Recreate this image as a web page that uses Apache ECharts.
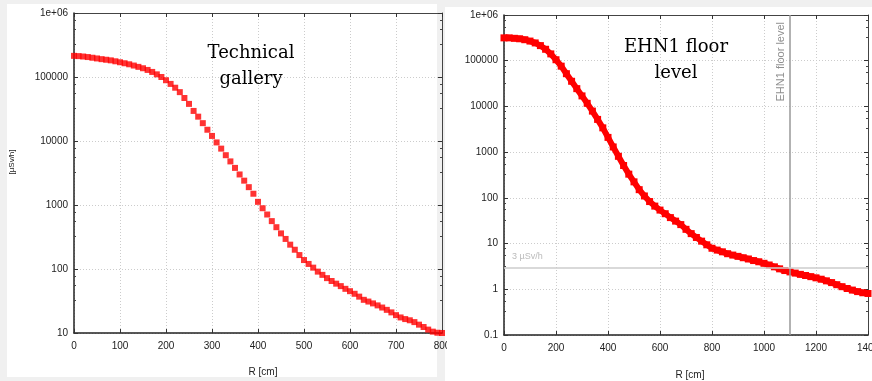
<!DOCTYPE html>
<html>
<head>
<meta charset="utf-8">
<style>
  html, body { margin: 0; padding: 0; background: #f0f0f0; }
  #chart { width: 872px; height: 381px; }
</style>
<script src="https://cdn.jsdelivr.net/npm/echarts@6/dist/echarts.min.js"></script>
</head>
<body>
<div id="chart"></div>
<script>
// Dose rate profile in the technical gallery (R in cm, dose in µSv/h)
const galleryR = [0,10,20,30,40,50,60,70,80,90,100,110,120,130,140,150,160,170,180,190,
  200,210,220,230,240,250,260,270,280,290,300,310,320,330,340,350,360,370,380,390,
  400,410,420,430,440,450,460,470,480,490,500,510,520,530,540,550,560,570,580,590,
  600,610,620,630,640,650,660,670,680,690,700,710,720,730,740,750,760,770,780,790,800];
const galleryDose = [214000,212000,209000,205000,200000,195000,190000,186000,182000,176000,
  170000,164000,158000,151000,144000,137000,129000,120000,110000,100000,
  89000,78000,68000,58000,47000,38000,29500,24000,19000,15000,
  12000,9500,7600,6000,4800,3800,3000,2400,1900,1500,
  1120,890,710,560,450,360,295,240,200,165,
  138,120,105,91,81,72,65,59,54,49,
  45,41,37,33,31,29,27,25,23,21,
  19,17.5,16.5,15.8,14.8,13.5,12.4,11.3,10.5,10.1,10.0];

// Dose rate profile at EHN1 floor level
const floorR = [0,20,40,60,80,100,120,140,160,180,200,220,240,260,280,300,320,340,360,380,
  400,420,440,460,480,500,520,540,560,580,600,620,640,660,680,700,720,740,760,780,
  800,820,840,860,880,900,920,940,960,980,1000,1020,1040,1060,1080,1100,1120,1140,1160,1180,
  1200,1220,1240,1260,1280,1300,1320,1340,1360,1380,1400];
const floorDose = [316000,316000,309000,302000,288000,269000,245000,214000,178000,141000,
  105000,76000,52000,35500,24500,17000,11700,7900,5200,3400,
  2100,1300,810,510,330,224,151,110,83,66,
  54,45,37,31,26,20.5,16.5,13.6,11.3,9.4,
  7.9,7.2,6.6,6.0,5.6,5.25,4.9,4.6,4.25,4.0,
  3.7,3.4,3.1,2.8,2.57,2.4,2.26,2.12,2.0,1.89,
  1.78,1.66,1.53,1.4,1.26,1.14,1.04,0.96,0.89,0.84,0.81];

// Axis ticks
const galleryXTicks = { min: 0, max: 800, interval: 100 };
const floorXTicks = { min: 0, max: 1400, interval: 200 };
const galleryYRange = { min: 10, max: 1e6 };
const floorYRange = { min: 0.1, max: 1e6 };

// Reference levels on the floor plot
const floorLevelR = 1100;
const doseLimit = 3;

const tickFont = { fontFamily: 'Liberation Sans, Arial, sans-serif', fontSize: 10, color: '#222' };
const fmtY = v => (v >= 1e6 ? '1e+06' : String(v));
const fmtX = v => String(v);

function xAxisPair(gridIndex, t) {
  return [
    {
      type: 'value', gridIndex, min: t.min, max: t.max, interval: t.interval,
      axisLine: { show: true, onZero: false, lineStyle: { color: '#222', width: 1.5 } },
      axisTick: { show: true, inside: true, length: 4, lineStyle: { color: '#333' } },
      axisLabel: Object.assign({ margin: 8, formatter: fmtX, hideOverlap: false }, tickFont),
      splitLine: { show: true, lineStyle: { color: '#ccc', type: [1, 2], width: 1 } }
    },
    {
      type: 'value', gridIndex, position: 'top', min: t.min, max: t.max, interval: t.interval,
      axisLine: { show: true, onZero: false, lineStyle: { color: '#444', width: 1 } },
      axisTick: { show: true, inside: true, length: 4, lineStyle: { color: '#333' } },
      axisLabel: { show: false },
      splitLine: { show: false }
    }
  ];
}

function yAxisPair(gridIndex, r) {
  return [
    {
      type: 'log', logBase: 10, gridIndex, min: r.min, max: r.max, splitNumber: 8,
      axisLine: { show: true, onZero: false, lineStyle: { color: '#222', width: 1.5 } },
      axisTick: { show: true, inside: true, length: 4, lineStyle: { color: '#333' } },
      minorTick: { show: true, splitNumber: 4, length: 2, lineStyle: { color: '#444' } },
      axisLabel: Object.assign({ margin: 6, formatter: fmtY }, tickFont),
      splitLine: { show: true, lineStyle: { color: '#ccc', type: [1, 2], width: 1 } }
    },
    {
      type: 'log', logBase: 10, gridIndex, position: 'right', min: r.min, max: r.max, splitNumber: 8,
      axisLine: { show: true, onZero: false, lineStyle: { color: '#444', width: 1 } },
      axisTick: { show: true, inside: true, length: 4, lineStyle: { color: '#333' } },
      minorTick: { show: true, splitNumber: 4, length: 2, lineStyle: { color: '#444' } },
      axisLabel: { show: false },
      splitLine: { show: false }
    }
  ];
}

const chart = echarts.init(document.getElementById('chart'), null, { renderer: 'canvas' });

const titleFont = '18px "DejaVu Serif", serif';

const option = {
  backgroundColor: '#f0f0f0',
  animation: false,
  graphic: [
    { type: 'rect', z: -10, shape: { x: 7, y: 4, width: 430, height: 373 }, style: { fill: '#fff' }, silent: true },
    { type: 'rect', z: -10, shape: { x: 445, y: 7, width: 427, height: 374 }, style: { fill: '#fff' }, silent: true },
    // right panel edge overlapping the last tick label of the left panel
    { type: 'rect', z: 100, shape: { x: 447, y: 336, width: 8, height: 14 }, style: { fill: '#fff' }, silent: true },
    {
      type: 'text', x: 251, y: 40, z: 10,
      style: { text: 'Technical\ngallery', fill: '#000', font: titleFont, align: 'center', lineHeight: 26 }
    },
    {
      type: 'text', x: 676, y: 34, z: 10,
      style: { text: 'EHN1 floor\nlevel', fill: '#000', font: titleFont, align: 'center', lineHeight: 26 }
    },
    {
      type: 'text', x: 12, y: 162, rotation: Math.PI / 2, z: 10,
      style: { text: '[µSv/h]', fill: '#222', font: '8px "Liberation Sans", sans-serif', align: 'center', verticalAlign: 'middle' }
    },
    {
      type: 'text', x: 263, y: 372, z: 10,
      style: { text: 'R [cm]', fill: '#222', font: '10px "Liberation Sans", sans-serif', align: 'center', verticalAlign: 'middle' }
    },
    {
      type: 'text', x: 690, y: 375, z: 10,
      style: { text: 'R [cm]', fill: '#222', font: '10px "Liberation Sans", sans-serif', align: 'center', verticalAlign: 'middle' }
    }
  ],
  grid: [
    { left: 74, top: 13, width: 368, height: 320, containLabel: false, outerBoundsMode: 'none' },
    { left: 504, top: 15, width: 364, height: 320, containLabel: false, outerBoundsMode: 'none' }
  ],
  xAxis: [].concat(xAxisPair(0, galleryXTicks), xAxisPair(1, floorXTicks)),
  yAxis: [].concat(yAxisPair(0, galleryYRange), yAxisPair(1, floorYRange)),
  series: [
    {
      type: 'scatter', xAxisIndex: 0, yAxisIndex: 0,
      data: galleryR.map((r, i) => [r, galleryDose[i]]),
      symbol: 'rect', symbolSize: 6,
      itemStyle: { color: '#ff0000' }
    },
    {
      type: 'line', xAxisIndex: 2, yAxisIndex: 2,
      data: floorR.map((r, i) => [r, floorDose[i]]),
      symbol: 'rect', symbolSize: 7, showSymbol: true,
      lineStyle: { color: '#ff0000', width: 6 },
      itemStyle: { color: '#ff0000' },
      markLine: {
        silent: true, symbol: 'none',
        data: [
          {
            xAxis: floorLevelR,
            lineStyle: { color: '#999', width: 1.5, type: 'solid' },
            label: { show: true, formatter: 'EHN1 floor level', position: 'insideEndTop', distance: [7, 4],
                     color: '#8f8f8f', fontSize: 11, fontFamily: 'Liberation Sans, sans-serif' }
          },
          {
            yAxis: doseLimit,
            lineStyle: { color: '#ccc', width: 1.5, type: 'solid' },
            label: { show: true, formatter: '3 µSv/h', position: 'insideStartTop', distance: [8, 6],
                     color: '#bbb', fontSize: 9, fontFamily: 'Liberation Sans, sans-serif' }
          }
        ]
      }
    }
  ]
};

chart.setOption(option);
</script>
</body>
</html>
